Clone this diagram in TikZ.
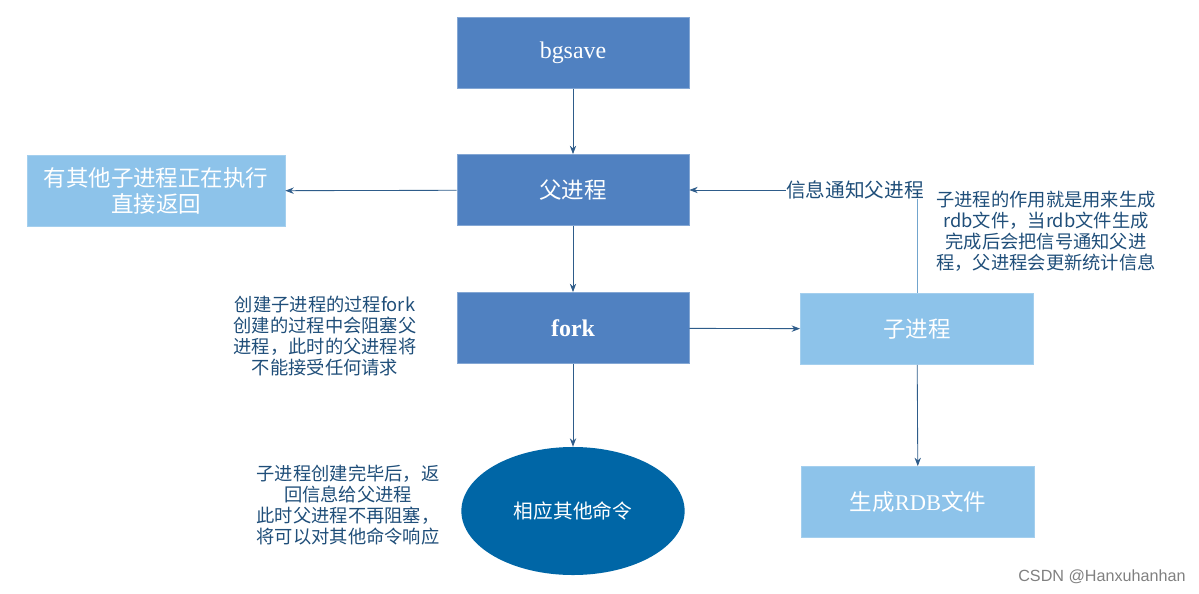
\documentclass[tikz,border=0pt]{standalone}
\usepackage{fontspec}
\setmainfont{Liberation Serif}
\setsansfont{Liberation Sans}
\newfontfamily\cjk{Noto Sans CJK SC}
\usepackage{tikz}
\usetikzlibrary{arrows.meta,positioning,calc,shapes.geometric}
\usepackage{xcolor}
\definecolor{procblue}{RGB}{80,129,193}
\definecolor{lightblue}{RGB}{141,195,234}
\definecolor{cmdblue}{RGB}{0,102,166}
\definecolor{notetext}{RGB}{31,78,121}
\definecolor{linkblue}{RGB}{46,92,138}

\begin{document}
\begin{tikzpicture}[
    x=0.025cm,y=0.025cm,
    procbox/.style={fill=procblue,draw=procblue!70!white,minimum width=5.8cm,minimum height=1.78cm,text=white,font=\fontsize{16}{18}\selectfont\cjk,align=center},
    subbox/.style={fill=lightblue,draw=lightblue!80!white,minimum height=1.78cm,text=white,font=\fontsize{16}{18}\selectfont\cjk,align=center},
    notetxt/.style={text=notetext,font=\fontsize{13}{15}\selectfont\cjk,align=center,inner sep=0pt},
    link/.style={->,draw=linkblue,line width=0.6pt},
    >={Stealth[length=6pt,width=4.5pt]}
]
\useasboundingbox (0,0) rectangle (1199,-593);

\node[procbox] (bgsave) at (573,-53) {\fontsize{17}{19}\selectfont\rmfamily bgsave};
\node[procbox] (parent) at (573,-190) {父进程};
\node[procbox] (fork) at (573,-328) {\fontsize{17}{19}\selectfont\rmfamily\bfseries fork};
\node[ellipse,fill=cmdblue,minimum width=5.58cm,minimum height=3.2cm,text=white,font=\fontsize{14}{16}\selectfont\cjk] (cmd) at (573,-511) {相应其他命令};

\node[subbox,minimum width=6.45cm] (busy) at (156,-191) {有其他子进程正在执行\\直接返回};
\node[subbox,minimum width=5.83cm] (child) at (917,-329) {子进程};
\node[subbox,minimum width=5.83cm] (rdb) at (918,-502) {生成{\rmfamily RDB}文件};

\node[notetxt,font=\fontsize{14}{16}\selectfont\cjk] (notify) at (855,-190) {信息通知父进程};

% arrows
\draw[link] (bgsave) -- (parent);
\draw[link] (parent) -- (busy);
\draw[link] (parent) -- (fork);
\draw[link] (fork) -- (cmd);
\draw[link] (fork) -- (child);
\draw[link] (child) -- (rdb);
\draw[draw=lightblue!70!linkblue,line width=0.6pt] (child.north) -- (child.north |- notify.south);
\draw[link] (notify.west) -- (parent.east);

% notes
\node[notetxt] (forknote) at (325,-336) {创建子进程的过程fork\\创建的过程中会阻塞父\\进程，此时的父进程将\\不能接受任何请求};
\node[notetxt] (cmdnote) at (348,-505) {子进程创建完毕后，返\\回信息给父进程\\此时父进程不再阻塞，\\将可以对其他命令响应};
\node[notetxt] (childnote) at (1046,-231) {子进程的作用就是用来生成\\rdb文件，当rdb文件生成\\完成后会把信号通知父进\\程，父进程会更新统计信息};

\node[text=gray,font=\fontsize{11.5}{14}\selectfont\sffamily] (mark) at (1102,-577) {CSDN @Hanxuhanhan};
\end{tikzpicture}
\end{document}
